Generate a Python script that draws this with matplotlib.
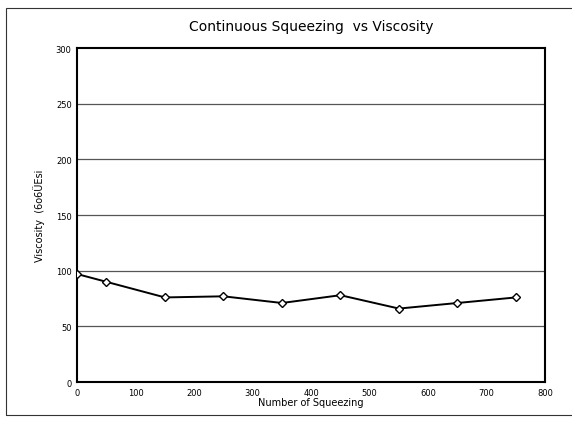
import matplotlib.pyplot as plt
from matplotlib.patches import Rectangle

squeezes = [0, 50, 150, 250, 350, 450, 550, 650, 750]
viscosity = [97, 90, 76, 77, 71, 78, 66, 71, 76]
x_ticks = [0, 100, 200, 300, 400, 500, 600, 700, 800]
y_ticks = [0, 50, 100, 150, 200, 250, 300]

plt.rcParams['font.family'] = ['Liberation Sans Narrow', 'DejaVu Sans']

fig = plt.figure(figsize=(5.72, 4.27), dpi=100)
ax = fig.add_axes([0.135, 0.103, 0.818, 0.782])

# outer frame of the scanned page
fig.patches.append(Rectangle((0.011, 0.025), 1.2, 0.955, transform=fig.transFigure,
                             fill=False, edgecolor='#333333', linewidth=0.8))

for v in y_ticks[1:-1]:
    ax.axhline(v, color='#555555', linewidth=0.9, zorder=1)

ax.plot(squeezes, viscosity, color='black', linewidth=1.4, marker='D', markersize=4,
        markerfacecolor='white', markeredgecolor='black', markeredgewidth=1.0, zorder=3)

ax.set_xlim(0, 800)
ax.set_ylim(0, 300)
ax.set_xticks(x_ticks)
ax.set_yticks(y_ticks)
ax.tick_params(labelsize=6, length=0, pad=4)
for s in ax.spines.values():
    s.set_linewidth(1.5)

ax.set_title('Continuous Squeezing  vs Viscosity', fontsize=10, pad=13)
ax.set_ylabel('Viscosity  (6o6ÜEsi', fontsize=7, labelpad=8)
ax.set_xlabel('Number of Squeezing', fontsize=7, labelpad=0)

plt.savefig('out.png', dpi=100)
